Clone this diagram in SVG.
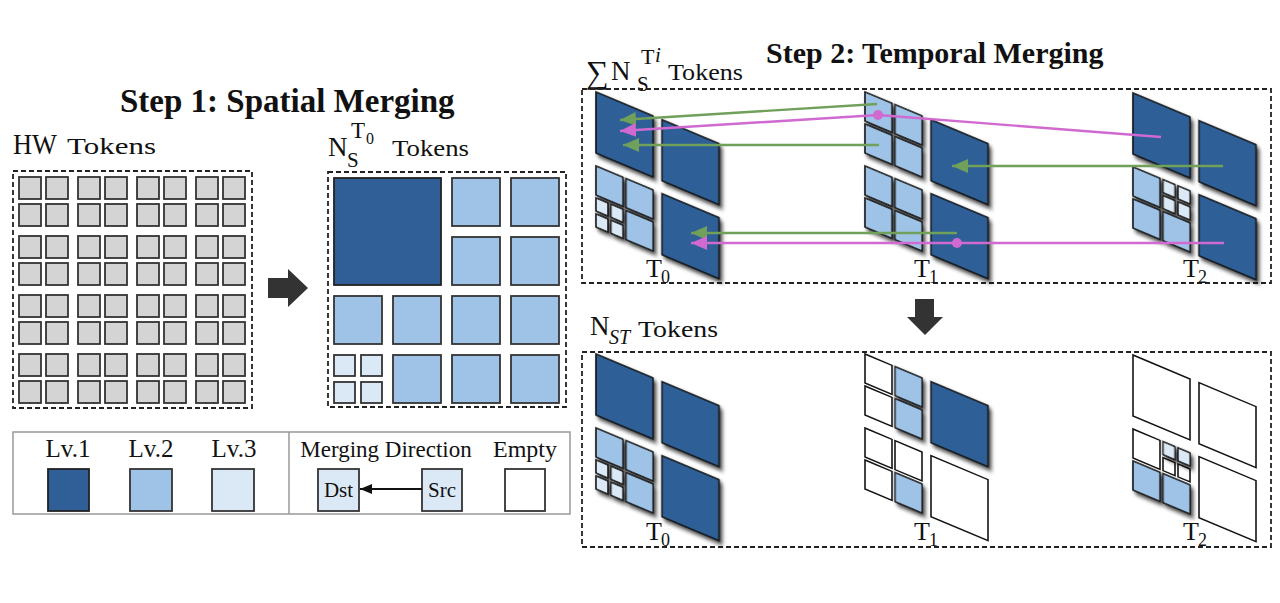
<svg xmlns="http://www.w3.org/2000/svg" xmlns:xlink="http://www.w3.org/1999/xlink" width="1280" height="603" viewBox="0 0 1280 603">
<style>
text{font-family:"Liberation Serif","Times New Roman",serif;fill:#111}
.b{font-weight:bold}
.dash{fill:none;stroke:#222;stroke-width:1.8;stroke-dasharray:5 3}
.l1{fill:#2f5f96;stroke:#151515;stroke-width:1.6}
.l2{fill:#9fc3e7;stroke:#151515;stroke-width:1.6}
.l3{fill:#dbe8f5;stroke:#151515;stroke-width:1.6}
.e{fill:#fff;stroke:#151515;stroke-width:1.6}
.g{fill:#d4d4d4;stroke:#333;stroke-width:1.8}
.f1{fill:#2f5f96;stroke:#222;stroke-width:1.8}
.f2{fill:#9fc3e7;stroke:#333;stroke-width:1.8}
.f3{fill:#dbe8f5;stroke:#333;stroke-width:1.8}
.fe{fill:#fff;stroke:#333;stroke-width:1.8}
.gr{fill:none;stroke:#70a05a;stroke-width:2.4}
.mg{fill:none;stroke:#d06ad0;stroke-width:2.4}
.dark{fill:#333}
.tl{font-size:26px}
.ts{font-size:18px}
</style>
<defs>
<filter id="sh" x="-20%" y="-20%" width="150%" height="150%">
<feDropShadow dx="2.5" dy="2.5" stdDeviation="2.2" flood-color="#000" flood-opacity="0.75"/>
</filter>
<marker id="ag" markerUnits="userSpaceOnUse" markerWidth="18" markerHeight="16" refX="16" refY="7" orient="auto"><path d="M0,0 L16,7 L0,14 z" fill="#70a05a"/></marker>
<marker id="am" markerUnits="userSpaceOnUse" markerWidth="18" markerHeight="16" refX="16" refY="7" orient="auto"><path d="M0,0 L16,7 L0,14 z" fill="#d06ad0"/></marker>
<marker id="ak" markerUnits="userSpaceOnUse" markerWidth="14" markerHeight="12" refX="12" refY="5" orient="auto"><path d="M0,0 L12,5 L0,10 z" fill="#111"/></marker>
<g id="blk">
<rect class="g" x="0" y="0" width="22" height="22"/><rect class="g" x="27" y="0" width="22" height="22"/>
<rect class="g" x="0" y="27" width="22" height="22"/><rect class="g" x="27" y="27" width="22" height="22"/>
</g>
</defs>
<rect width="1280" height="603" fill="#fff"/>

<!-- Step 1 -->
<text class="b" x="120" y="112" font-size="33">Step 1: Spatial Merging</text>
<g id="hw-label"><text x="13" y="154" font-size="30" textLength="44" lengthAdjust="spacingAndGlyphs">HW</text><text x="67" y="154" font-size="24" textLength="89" lengthAdjust="spacingAndGlyphs">Tokens</text></g>

<g id="hw-grid">
<rect class="dash" x="13" y="171" width="239" height="237"/>
<use xlink:href="#blk" x="19" y="177"/><use xlink:href="#blk" x="78" y="177"/><use xlink:href="#blk" x="137" y="177"/><use xlink:href="#blk" x="196" y="177"/>
<use xlink:href="#blk" x="19" y="236"/><use xlink:href="#blk" x="78" y="236"/><use xlink:href="#blk" x="137" y="236"/><use xlink:href="#blk" x="196" y="236"/>
<use xlink:href="#blk" x="19" y="295"/><use xlink:href="#blk" x="78" y="295"/><use xlink:href="#blk" x="137" y="295"/><use xlink:href="#blk" x="196" y="295"/>
<use xlink:href="#blk" x="19" y="354"/><use xlink:href="#blk" x="78" y="354"/><use xlink:href="#blk" x="137" y="354"/><use xlink:href="#blk" x="196" y="354"/>
</g>

<g id="arrow-right"><polygon class="dark" points="268,278 288,278 288,269 308,288 288,307 288,298 268,298"/></g>

<g id="ns-label">
<text x="328" y="156" font-size="27">N</text>
<text x="347" y="167" font-size="21">S</text>
<text x="351" y="138" font-size="23">T</text>
<text x="366" y="144" font-size="16">0</text>
<text x="392" y="156" font-size="23" textLength="77" lengthAdjust="spacingAndGlyphs">Tokens</text>
</g>

<g id="ns-grid">
<rect class="dash" x="328" y="172" width="238" height="235"/>
<rect class="f1" x="334" y="178" width="107" height="107"/>
<rect class="f2" x="452" y="178" width="48" height="48"/><rect class="f2" x="511" y="178" width="48" height="48"/>
<rect class="f2" x="452" y="237" width="48" height="48"/><rect class="f2" x="511" y="237" width="48" height="48"/>
<rect class="f2" x="334" y="296" width="48" height="48"/><rect class="f2" x="393" y="296" width="48" height="48"/>
<rect class="f2" x="452" y="296" width="48" height="48"/><rect class="f2" x="511" y="296" width="48" height="48"/>
<rect class="f3" x="334" y="355" width="21" height="21"/><rect class="f3" x="361" y="355" width="21" height="21"/>
<rect class="f3" x="334" y="382" width="21" height="21"/><rect class="f3" x="361" y="382" width="21" height="21"/>
<rect class="f2" x="393" y="355" width="48" height="48"/>
<rect class="f2" x="452" y="355" width="48" height="48"/><rect class="f2" x="511" y="355" width="48" height="48"/>
</g>

<g id="legend">
<rect x="13" y="432" width="557" height="82" fill="none" stroke="#999" stroke-width="1.5"/>
<line x1="289" y1="432" x2="289" y2="514" stroke="#999" stroke-width="1.5"/>
<text x="68" y="457" font-size="25" text-anchor="middle">Lv.1</text>
<text x="151" y="457" font-size="25" text-anchor="middle">Lv.2</text>
<text x="234" y="457" font-size="25" text-anchor="middle">Lv.3</text>
<rect class="f1" x="48" y="469" width="41" height="42"/>
<rect class="f2" x="130" y="469" width="42" height="42"/>
<rect class="f3" x="212" y="469" width="42" height="42"/>
<text x="386" y="457" font-size="23" text-anchor="middle">Merging Direction</text>
<text x="525" y="457" font-size="24" text-anchor="middle">Empty</text>
<rect class="f3" x="318" y="469" width="41" height="42"/>
<rect class="f3" x="422" y="469" width="40" height="42"/>
<rect class="fe" x="505" y="469" width="40" height="42"/>
<text x="338.5" y="497" font-size="21" text-anchor="middle">Dst</text>
<text x="442" y="497" font-size="21" text-anchor="middle">Src</text>
<line x1="422" y1="489" x2="360" y2="489" stroke="#111" stroke-width="2" marker-end="url(#ak)"/>
</g>

<!-- Step 2 -->
<text class="b" x="766" y="63" font-size="30">Step 2: Temporal Merging</text>
<g id="sum-label">
<text x="586" y="83" font-size="32">∑</text>
<text x="611" y="80" font-size="27">N</text>
<text x="637" y="91" font-size="21">S</text>
<text x="641" y="64" font-size="22">T</text>
<text x="655" y="62" font-size="21" font-style="italic">i</text>
<text x="668" y="80" font-size="23" textLength="75" lengthAdjust="spacingAndGlyphs">Tokens</text>
</g>
<rect id="top-panel" class="dash" x="582" y="89" width="689" height="194"/>

<g id="top-t0" transform="matrix(1,0.42,0,1,596,92)">
<g filter="url(#sh)">
<rect class="l1" x="0" y="0" width="57" height="61"/>
<rect class="l1" x="66" y="0" width="57" height="61"/>
<rect class="l1" x="66" y="74" width="57" height="61"/>
<rect class="l2" x="0" y="74" width="27" height="29"/><rect class="l2" x="30" y="74" width="27" height="29"/>
<rect class="l2" x="30" y="106" width="27" height="29"/>
<rect class="l3" x="0" y="106" width="12" height="13"/><rect class="l3" x="15" y="106" width="12" height="13"/>
<rect class="l3" x="0" y="122" width="12" height="13"/><rect class="l3" x="15" y="122" width="12" height="13"/>
</g>
</g>
<g id="top-t1" transform="matrix(1,0.42,0,1,865,92)">
<g filter="url(#sh)">
<rect class="l2" x="0" y="0" width="27" height="29"/><rect class="l2" x="30" y="0" width="27" height="29"/>
<rect class="l2" x="0" y="32" width="27" height="29"/><rect class="l2" x="30" y="32" width="27" height="29"/>
<rect class="l1" x="66" y="0" width="57" height="61"/>
<rect class="l2" x="0" y="74" width="27" height="29"/><rect class="l2" x="30" y="74" width="27" height="29"/>
<rect class="l2" x="0" y="106" width="27" height="29"/><rect class="l2" x="30" y="106" width="27" height="29"/>
<rect class="l1" x="66" y="74" width="57" height="61"/>
</g>
</g>
<g id="top-t2" transform="matrix(1,0.42,0,1,1133,93)">
<g filter="url(#sh)">
<rect class="l1" x="0" y="0" width="57" height="61"/>
<rect class="l1" x="66" y="0" width="57" height="61"/>
<rect class="l1" x="66" y="74" width="57" height="61"/>
<rect class="l2" x="0" y="74" width="27" height="29"/>
<rect class="l2" x="0" y="106" width="27" height="29"/><rect class="l2" x="30" y="106" width="27" height="29"/>
<rect class="l3" x="30" y="74" width="12" height="13"/><rect class="l3" x="45" y="74" width="12" height="13"/>
<rect class="l3" x="30" y="90" width="12" height="13"/><rect class="l3" x="45" y="90" width="12" height="13"/>
</g>
</g>
<g id="top-labels">
<text class="tl" x="646" y="277">T</text><text class="ts" x="661" y="283">0</text>
<text class="tl" x="914" y="277">T</text><text class="ts" x="929" y="283">1</text>
<text class="tl" x="1183" y="277">T</text><text class="ts" x="1198" y="283">2</text>
</g>

<g id="connectors">
<line class="gr" x1="877" y1="104" x2="620" y2="120" marker-end="url(#ag)"/>
<polyline class="mg" points="1161,137 878,115 620,131" marker-end="url(#am)"/>
<circle cx="878" cy="115" r="5" fill="#d06ad0"/>
<line class="gr" x1="879" y1="145" x2="623" y2="145" marker-end="url(#ag)"/>
<line class="gr" x1="1223" y1="166" x2="952" y2="166" marker-end="url(#ag)"/>
<line class="gr" x1="957" y1="233" x2="691" y2="233" marker-end="url(#ag)"/>
<line class="mg" x1="1224" y1="243" x2="691" y2="243" marker-end="url(#am)"/>
<circle cx="957" cy="243" r="5" fill="#d06ad0"/>
</g>

<g id="arrow-down"><polygon class="dark" points="915,299 934,299 934,317 943,317 925,335 907,317 915,317"/></g>

<g id="nst-label">
<text x="590" y="335" font-size="27">N</text>
<text x="609" y="344" font-size="20" font-style="italic">ST</text>
<text x="638" y="337" font-size="23" textLength="80" lengthAdjust="spacingAndGlyphs">Tokens</text>
</g>
<rect id="bottom-panel" class="dash" x="582" y="352" width="689" height="195"/>

<g id="bot-t0" transform="matrix(1,0.42,0,1,596,354)">
<g filter="url(#sh)">
<rect class="l1" x="0" y="0" width="57" height="61"/>
<rect class="l1" x="66" y="0" width="57" height="61"/>
<rect class="l1" x="66" y="74" width="57" height="61"/>
<rect class="l2" x="0" y="74" width="27" height="29"/><rect class="l2" x="30" y="74" width="27" height="29"/>
<rect class="l2" x="30" y="106" width="27" height="29"/>
<rect class="l3" x="0" y="106" width="12" height="13"/><rect class="l3" x="15" y="106" width="12" height="13"/>
<rect class="l3" x="0" y="122" width="12" height="13"/><rect class="l3" x="15" y="122" width="12" height="13"/>
</g>
</g>
<g id="bot-t1" transform="matrix(1,0.42,0,1,865,354)">
<g>
<rect class="e" x="0" y="0" width="27" height="29"/><rect class="e" x="0" y="32" width="27" height="29"/>
<rect class="e" x="0" y="74" width="27" height="29"/><rect class="e" x="30" y="74" width="27" height="29"/>
<rect class="e" x="0" y="106" width="27" height="29"/>
<rect class="e" x="66" y="74" width="57" height="61"/>
</g>
<g filter="url(#sh)">
<rect class="l2" x="30" y="0" width="27" height="29"/><rect class="l2" x="30" y="32" width="27" height="29"/>
<rect class="l1" x="66" y="0" width="57" height="61"/>
<rect class="l2" x="30" y="106" width="27" height="29"/>
</g>
</g>
<g id="bot-t2" transform="matrix(1,0.42,0,1,1133,355)">
<g>
<rect class="e" x="0" y="0" width="57" height="61"/>
<rect class="e" x="66" y="0" width="57" height="61"/>
<rect class="e" x="66" y="74" width="57" height="61"/>
<rect class="e" x="0" y="74" width="27" height="29"/>
<rect class="e" x="30" y="90" width="12" height="13"/><rect class="e" x="45" y="90" width="12" height="13"/>
</g>
<g filter="url(#sh)">
<rect class="l2" x="0" y="106" width="27" height="29"/><rect class="l2" x="30" y="106" width="27" height="29"/>
<rect class="l3" x="30" y="74" width="12" height="13"/><rect class="l3" x="45" y="74" width="12" height="13"/>
</g>
</g>
<g id="bottom-labels">
<text class="tl" x="646" y="540">T</text><text class="ts" x="661" y="546">0</text>
<text class="tl" x="914" y="540">T</text><text class="ts" x="929" y="546">1</text>
<text class="tl" x="1183" y="540">T</text><text class="ts" x="1198" y="546">2</text>
</g>
</svg>
